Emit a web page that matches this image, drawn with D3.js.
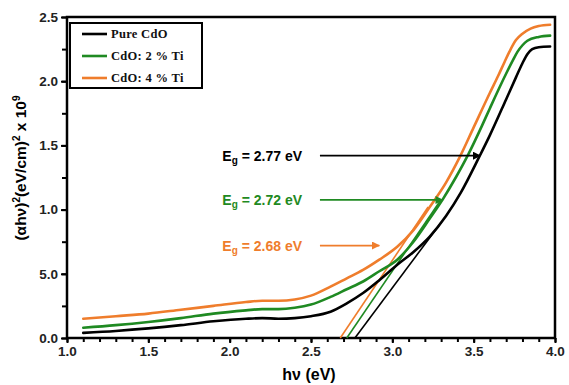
<!DOCTYPE html>
<html>
<head>
<meta charset="utf-8">
<script src="https://cdn.jsdelivr.net/npm/d3@7"></script>
<style>
  html,body{margin:0;padding:0;background:#fff;}
  svg{display:block;}
  .tk text{font-family:Arial,"Liberation Sans",sans-serif;font-weight:bold;font-size:13.5px;fill:#222;}
</style>
</head>
<body>
<div id="chart"></div>
<script>
// ── data ──
const xPure = [1.1,1.3,1.5,1.7,1.9,2.1,2.2,2.3,2.4,2.5,2.62,2.72,2.82,2.92,3.03,3.13,3.23,3.33,3.42,3.534,3.6,3.7,3.76,3.8,3.83,3.86,3.9,3.97];
const yPure = [0.04,0.055,0.075,0.10,0.13,0.15,0.155,0.15,0.155,0.17,0.205,0.27,0.35,0.45,0.57,0.67,0.79,0.95,1.13,1.41,1.58,1.86,2.03,2.14,2.21,2.25,2.265,2.27];
const xTi2  = [1.1,1.3,1.5,1.7,1.9,2.1,2.2,2.3,2.4,2.5,2.62,2.72,2.82,2.92,3.03,3.13,3.23,3.31,3.39,3.467,3.55,3.6,3.7,3.74,3.77,3.8,3.83,3.9,3.97];
const yTi2  = [0.08,0.10,0.125,0.155,0.19,0.215,0.225,0.225,0.235,0.26,0.32,0.38,0.44,0.52,0.61,0.75,0.93,1.08,1.25,1.43,1.65,1.79,2.06,2.16,2.23,2.28,2.315,2.345,2.355];
const xTi4  = [1.1,1.3,1.5,1.7,1.9,2.1,2.2,2.3,2.4,2.5,2.62,2.72,2.82,2.92,3.03,3.13,3.23,3.33,3.415,3.5,3.6,3.65,3.69,3.72,3.76,3.8,3.85,3.9,3.97];
const yTi4  = [0.15,0.17,0.19,0.22,0.25,0.28,0.29,0.29,0.30,0.33,0.40,0.465,0.53,0.61,0.71,0.84,1.02,1.21,1.41,1.64,1.91,2.04,2.15,2.23,2.32,2.37,2.41,2.43,2.44];

const names  = ["Pure CdO","CdO: 2 % Ti","CdO: 4 % Ti"];
const colors = ["#000000","#1f8a22","#ef7d2c"];

// tangent lines: [x0,y0,x1,y1]
const tangents = [[2.77,0,3.30,0.90],[2.72,0,3.30,1.08],[2.68,0,3.22,1.02]];
// band gap notes: value, text y (data), arrow tip x (data)
const gapVals = ["2.77","2.72","2.68"];
const gapY    = [1.42,1.075,0.72];
const gapTipX = [3.54,3.31,2.92];

const xTicks = [1.0,1.5,2.0,2.5,3.0,3.5,4.0];
const yTicks = [0,0.5,1.0,1.5,2.0,2.5];
const yTickLabels = ["0.0","5.0","1.0","1.5","2.0","2.5"];

// ── layout ──
const W=569,H=385;
const MG={t:17,r:14,b:47,l:67};
const iW=W-MG.l-MG.r, iH=H-MG.t-MG.b;

const svg=d3.select("#chart").append("svg").attr("width",W).attr("height",H);
const g=svg.append("g").attr("transform",`translate(${MG.l},${MG.t})`);

const xSc=d3.scaleLinear().domain([1,4]).range([0,iW]);
const ySc=d3.scaleLinear().domain([0,2.5]).range([iH,0]);

// minor ticks
const xMinor=d3.range(1,4.001,0.1).map(v=>+v.toFixed(2));
const yMinor=d3.range(0,2.501,0.25).map(v=>+v.toFixed(2));
g.append("g").attr("transform",`translate(0,${iH})`)
  .call(d3.axisBottom(xSc).tickValues(xMinor).tickSize(4).tickFormat(""))
  .call(a=>a.select(".domain").remove())
  .selectAll("line").attr("stroke","#000").attr("stroke-width",2);
g.append("g")
  .call(d3.axisLeft(ySc).tickValues(yMinor).tickSize(5).tickFormat(""))
  .call(a=>a.select(".domain").remove())
  .selectAll("line").attr("stroke","#000").attr("stroke-width",2);

// major axes
g.append("g").attr("class","tk").attr("transform",`translate(0,${iH})`)
  .call(d3.axisBottom(xSc).tickValues(xTicks).tickSize(5).tickPadding(3).tickFormat(d3.format(".1f")))
  .call(a=>a.select(".domain").remove())
  .selectAll("line").attr("stroke","#000").attr("stroke-width",2);
g.append("g").attr("class","tk")
  .call(d3.axisLeft(ySc).tickValues(yTicks).tickSize(6).tickPadding(3).tickFormat((d,i)=>yTickLabels[i]))
  .call(a=>a.select(".domain").remove())
  .selectAll("line").attr("stroke","#000").attr("stroke-width",2);

// frame
g.append("rect").attr("width",iW).attr("height",iH)
  .attr("fill","none").attr("stroke","#000").attr("stroke-width",2.5);

// curves
const line=d3.line().x(d=>xSc(d[0])).y(d=>ySc(d[1])).curve(d3.curveMonotoneX);
const series=[[xPure,yPure],[xTi2,yTi2],[xTi4,yTi4]];

// tangent lines (drawn under curves)
tangents.forEach((t,i)=>{
  g.append("line")
    .attr("x1",xSc(t[0])).attr("y1",ySc(t[1]))
    .attr("x2",xSc(t[2])).attr("y2",ySc(t[3]))
    .attr("stroke",colors[i]).attr("stroke-width",1.6);
});

series.forEach((s,i)=>{
  g.append("path")
    .datum(s[0].map((x,j)=>[x,s[1][j]]))
    .attr("fill","none").attr("stroke",colors[i]).attr("stroke-width",2.6)
    .attr("stroke-linejoin","round").attr("stroke-linecap","round")
    .attr("d",line);
});

// arrow markers
const defs=svg.append("defs");
colors.forEach((c,i)=>{
  defs.append("marker").attr("id","ar"+i)
    .attr("viewBox","0 0 10 10").attr("refX",9).attr("refY",5)
    .attr("markerWidth",4.5).attr("markerHeight",4.5).attr("orient","auto")
    .attr("markerUnits","strokeWidth")
    .append("path").attr("d","M0,0 L10,5 L0,10 z").attr("fill",c);
});

// band gap annotations
const txtX=xSc(1.955);
gapVals.forEach((v,i)=>{
  const y=ySc(gapY[i]);
  const t=g.append("text").attr("x",txtX).attr("y",y+5)
    .attr("fill",colors[i]).attr("font-family","Arial,'Liberation Sans',sans-serif")
    .attr("font-weight","bold").attr("font-size",14);
  t.append("tspan").text("E");
  t.append("tspan").attr("font-size",10).attr("dy",3).text("g");
  t.append("tspan").attr("dy",-3).text(` = ${v} eV`);
  g.append("line").attr("x1",xSc(2.555)).attr("x2",xSc(gapTipX[i]))
    .attr("y1",y).attr("y2",y)
    .attr("stroke",colors[i]).attr("stroke-width",1.8)
    .attr("marker-end",`url(#ar${i})`);
});

// legend
const lg=g.append("g").attr("transform","translate(3,6)");
lg.append("rect").attr("width",132).attr("height",65)
  .attr("fill","#fff").attr("stroke","#000").attr("stroke-width",2);
names.forEach((n,i)=>{
  const yy=11+i*22;
  lg.append("line").attr("x1",12).attr("x2",37).attr("y1",yy).attr("y2",yy)
    .attr("stroke",colors[i]).attr("stroke-width",2.6);
  lg.append("text").attr("x",41).attr("y",yy+4)
    .attr("font-family","'Liberation Serif','Times New Roman',serif")
    .attr("font-weight","bold").attr("font-size",12.5).attr("fill","#111")
    .attr("letter-spacing","0.3")
    .text(n);
});

// axis titles
svg.append("text").attr("x",MG.l+xSc(2.5)-2).attr("y",380)
  .attr("text-anchor","middle")
  .attr("font-family","Arial,'Liberation Sans',sans-serif").attr("font-weight","bold").attr("font-size",16)
  .text("hν (eV)");

const yl=svg.append("text").attr("transform","translate(26,168) rotate(-90)")
  .attr("text-anchor","middle")
  .attr("font-family","Arial,'Liberation Sans',sans-serif").attr("font-weight","bold").attr("font-size",15.5);
yl.append("tspan").text("(αhν)");
yl.append("tspan").attr("font-size",10).attr("dy",-6).text("2");
yl.append("tspan").attr("dy",6).text("(eV/cm)");
yl.append("tspan").attr("font-size",10).attr("dy",-6).text("2");
yl.append("tspan").attr("dy",6).text(" x 10");
yl.append("tspan").attr("font-size",10).attr("dy",-6).text("9");
</script>
</body>
</html>
